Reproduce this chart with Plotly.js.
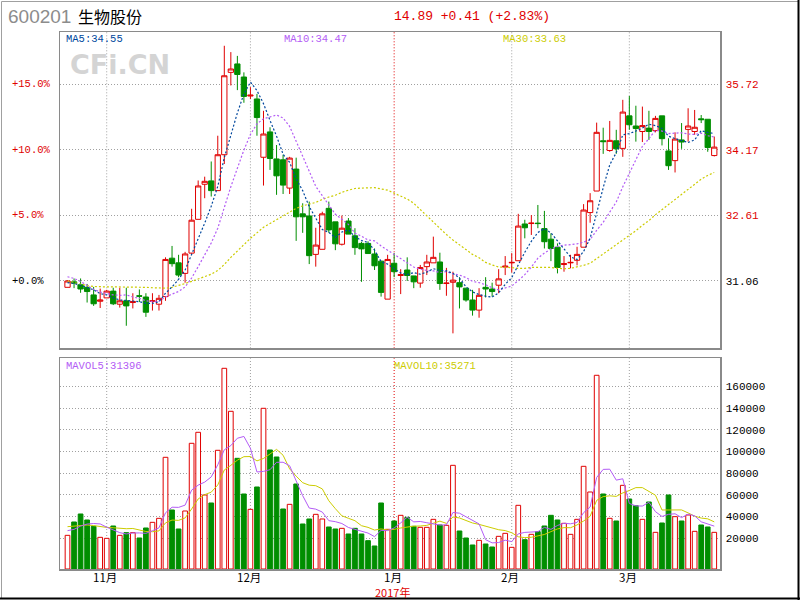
<!DOCTYPE html>
<html>
<head>
<meta charset="utf-8">
<script src="https://cdn.plot.ly/plotly-3.0.1.min.js"></script>
<style>html,body{margin:0;padding:0;background:#fff}#chart{width:800px;height:600px}</style>
</head>
<body>
<div id="chart"></div>
<script>
// ---- data ----
const openP = [30.91,31.04,30.97,30.91,30.73,30.58,30.66,30.82,30.51,30.59,30.55,30.71,30.68,30.58,30.51,30.69,31.60,31.49,31.24,31.72,
32.52,33.35,33.43,33.20,34.05,36.00,36.20,35.89,35.44,35.37,33.99,34.59,33.95,33.93,33.26,33.71,32.65,32.60,31.69,31.81,
32.78,32.46,31.93,32.48,32.13,31.95,31.95,31.70,31.53,30.63,31.48,31.19,31.32,31.18,31.01,31.40,31.49,31.51,31.00,31.03,
31.02,30.89,30.61,30.37,30.91,30.87,30.96,31.39,31.49,31.54,32.41,32.42,32.43,32.30,32.05,31.86,31.45,31.49,31.55,31.86,
32.68,33.19,34.38,34.15,34.38,34.20,34.97,34.73,34.60,34.68,34.62,34.97,34.14,33.91,34.40,34.65,34.60,34.90,34.89,34.03];
const highP = [31.08,31.12,31.12,30.99,30.92,30.88,30.85,30.90,30.90,30.90,30.77,30.86,30.77,30.77,30.73,31.62,31.89,31.68,31.75,32.77,
33.44,33.53,33.89,34.50,36.63,36.48,36.39,36.00,35.65,35.49,35.09,34.70,34.28,34.05,34.00,33.98,32.90,32.94,32.32,32.70,
32.94,32.46,32.61,32.55,32.31,31.99,32.00,31.83,31.53,31.68,31.72,31.34,31.62,31.18,31.44,31.68,32.11,31.73,31.37,31.28,
31.15,30.89,30.85,30.89,31.15,31.02,31.34,31.65,31.72,32.65,32.51,32.62,32.86,32.72,32.19,31.95,31.65,31.68,31.87,32.88,
33.14,34.81,34.69,34.85,34.64,35.35,35.44,35.21,35.19,35.09,34.97,34.97,34.44,34.58,34.80,35.15,35.11,34.99,34.89,34.48];
const lowP = [30.91,30.89,30.78,30.55,30.47,30.42,30.66,30.49,30.43,30.00,30.41,30.56,30.21,30.36,30.36,30.59,31.40,31.15,31.02,31.70,
32.52,33.02,33.06,33.20,33.83,35.69,35.58,35.28,35.37,34.50,33.32,33.69,33.10,33.12,33.12,32.01,32.20,31.46,31.40,31.81,
32.20,31.79,31.90,32.17,31.68,31.04,31.71,31.32,30.69,30.63,31.15,30.75,31.06,30.89,30.90,31.20,31.49,30.85,30.71,29.82,
30.41,30.57,30.24,30.19,30.67,30.69,30.77,31.20,31.26,31.54,32.07,32.15,32.31,31.83,31.53,31.24,31.28,31.36,31.43,31.86,
32.44,33.19,34.07,34.12,34.07,34.00,34.64,34.36,34.35,34.40,34.58,34.27,33.69,33.63,34.19,34.36,34.52,34.80,34.12,34.01];
const closeP = [31.06,31.01,30.87,30.81,30.52,30.61,30.82,30.52,30.59,30.47,30.57,30.70,30.32,30.59,30.65,31.57,31.47,31.20,31.70,32.50,
33.31,33.42,33.20,34.05,35.92,36.08,35.95,35.43,35.46,34.93,34.54,33.96,33.55,33.33,33.97,32.58,32.58,31.66,31.91,32.65,
32.27,31.94,32.31,32.17,31.85,31.82,31.71,31.42,30.79,31.57,31.28,31.21,31.19,31.04,31.38,31.51,31.62,31.00,31.01,31.08,
30.92,30.61,30.37,30.72,30.87,30.81,31.11,31.41,31.50,32.36,32.32,32.43,32.42,31.99,31.83,31.38,31.47,31.50,31.69,32.74,
32.96,34.58,34.36,34.39,34.19,35.06,34.76,34.67,34.74,34.60,34.91,34.43,33.79,34.42,34.35,34.73,34.70,34.88,34.22,34.23];
const volume = [22490,34800,42190,36650,30800,20650,19720,31110,22490,24950,24950,20030,29260,34490,38190,94500,45880,28340,44960,107420,
117570,59720,52340,100960,176650,136960,93570,60650,46490,67110,139730,101260,94800,46800,51110,69880,32950,37570,41880,37570,
30190,28340,28950,23720,28950,23720,17570,12650,52340,28030,35720,40960,39110,30800,29880,29880,37260,32030,31720,87110,
26490,20030,13570,17880,14490,11720,21570,24340,11420,50190,18490,23420,25880,31110,40960,36650,33570,23420,37260,86190,
62490,170200,60650,38190,35720,68650,56030,49880,37260,53260,25260,33880,59720,39720,35720,41260,26180,32030,30190,25260];
const ma5 = [31.02,31.00,30.96,30.91,30.85,30.76,30.73,30.66,30.61,30.60,30.59,30.57,30.53,30.53,30.57,30.77,30.92,31.10,31.32,31.69,
32.04,32.43,32.83,33.30,33.98,34.53,35.04,35.49,35.77,35.57,35.26,34.86,34.49,34.06,33.87,33.48,33.20,32.82,32.54,32.28,
32.21,32.09,32.22,32.27,32.11,32.02,31.97,31.79,31.52,31.46,31.35,31.25,31.21,31.26,31.22,31.27,31.35,31.31,31.30,31.24,
31.13,30.92,30.80,30.74,30.70,30.68,30.78,30.98,31.14,31.44,31.74,32.00,32.21,32.30,32.20,32.01,31.82,31.63,31.57,31.76,
32.07,32.69,33.27,33.81,34.10,34.52,34.55,34.61,34.68,34.77,34.74,34.67,34.49,34.43,34.38,34.34,34.40,34.62,34.58,34.55];
const ma10 = [31.16,31.12,31.05,30.95,30.86,30.80,30.76,30.73,30.72,30.73,30.68,30.65,30.59,30.57,30.58,30.68,30.75,30.81,30.92,31.13,
31.40,31.67,31.96,32.31,32.83,33.29,33.73,34.16,34.53,34.78,34.90,34.95,34.99,34.92,34.72,34.37,34.03,33.66,33.30,33.07,
32.85,32.64,32.52,32.40,32.19,32.12,32.03,32.01,31.89,31.79,31.69,31.61,31.50,31.39,31.34,31.31,31.30,31.26,31.28,31.23,
31.20,31.14,31.05,31.02,30.97,30.90,30.85,30.89,30.94,31.07,31.21,31.39,31.60,31.72,31.82,31.88,31.91,31.92,31.94,31.98,
32.04,32.26,32.45,32.69,32.93,33.29,33.62,33.94,34.25,34.43,34.63,34.61,34.55,34.56,34.57,34.54,34.53,34.56,34.50,34.47];
const ma30 = [31.06,31.02,30.98,30.95,30.93,30.92,30.92,30.92,30.92,30.92,30.92,30.91,30.91,30.90,30.89,30.89,30.91,30.95,31.00,31.05,
31.11,31.16,31.22,31.31,31.45,31.62,31.78,31.92,32.07,32.21,32.33,32.42,32.51,32.60,32.71,32.78,32.84,32.88,32.92,32.99,
33.05,33.09,33.16,33.21,33.25,33.26,33.27,33.27,33.24,33.21,33.14,33.07,33.00,32.90,32.75,32.60,32.45,32.31,32.16,32.03,
31.91,31.80,31.69,31.61,31.50,31.44,31.39,31.39,31.37,31.36,31.36,31.38,31.38,31.38,31.38,31.36,31.35,31.36,31.39,31.43,
31.48,31.59,31.70,31.81,31.91,32.02,32.13,32.25,32.38,32.49,32.63,32.75,32.87,32.99,33.11,33.24,33.36,33.47,33.56,33.63];
const mavol5 = [26800,28000,31000,32900,33390,33020,30000,27790,24950,23780,24640,24710,24340,26740,29380,43290,48460,48280,50370,64220,
68830,71600,76400,87600,101450,105330,112100,113760,102860,80960,81510,83050,89880,89940,86740,72770,59110,47660,46680,43970,
36030,35110,33390,29750,28030,26740,24580,21320,27050,26860,29260,33940,39230,34920,35290,34130,33390,31970,32150,43600,
42920,39480,35780,33020,18490,15540,15850,18000,16710,23850,25200,25570,25880,29820,27970,31600,33630,33140,34370,43420,
48590,75910,83360,83540,73450,74680,51850,49690,49510,53020,44340,39910,41880,42370,38860,42060,40520,34980,33080,30980];
const mavol10 = [30500,31000,31500,32000,31500,30500,29800,29500,29000,28590,28830,27350,26060,25850,26580,33970,36590,36310,38560,46800,
56060,60030,62340,68990,82830,87080,91850,95080,95230,91200,93420,97570,101820,96400,83850,77140,71080,68770,68310,65360,
54400,47110,40520,38220,36000,31380,29850,27350,28400,27450,28000,29260,30280,30990,31080,31690,33660,35600,33540,39450,
38520,36430,33880,32590,31050,29230,27660,26890,24860,21170,20370,20710,21940,23260,25910,28400,29600,29510,32100,35700,
40100,54770,58250,58960,58430,61630,63880,66530,66530,63230,59510,45880,45790,45940,45940,43200,40210,38430,37720,34920];
const monthTicks = [6, 28, 50, 68, 86];          // trading-day index of first session of each month
const monthLabels = ['11月', '12月', '1月', '2月', '3月'];
const yearTick = 50, yearLabel = '2017年';
const priceTicks = [31.06, 32.613, 34.166, 35.719];
const priceLabels = ['31.06', '32.61', '34.17', '35.72'];
const pctLabels = ['+0.0%', '+5.0%', '+10.0%', '+15.0%'];
const volTicks = [20000, 40000, 60000, 80000, 100000, 120000, 140000, 160000];
const volLabels = ['20000', '40000', '60000', '80000', '100000', '120000', '140000', '160000'];

// ---- styling ----
const RED = '#e00000', GREEN = '#008e00';
const C_MA5 = '#00479d', C_MA10 = '#b35cf5', C_MA30 = '#cccc00';
const MONO = 'Liberation Mono, DejaVu Sans Mono, monospace';
const CJK = 'Noto Sans CJK SC, sans-serif';
const DOT = '1px,2px';

const idx = closeP.map((_, i) => i);
const up = closeP.map((c, i) => c > openP[i]);
const xRange = [-1.15, 99.88];
const priceRange = [29.466, 36.956];
const volRange = [-8580, 185880];
const volBase = volRange[0];

const maLine = (y, color) => ({type: 'scatter', mode: 'lines', x: idx, y: y, xaxis: 'x', yaxis: 'y',
  line: {color: color, width: 1.2, dash: '2px,2px'}, hoverinfo: 'skip'});

const traces = [
  maLine(ma30, C_MA30), maLine(ma10, C_MA10), maLine(ma5, C_MA5),
  {type: 'candlestick', x: idx, open: openP, high: highP, low: lowP, close: closeP, xaxis: 'x', yaxis: 'y',
    increasing: {line: {color: RED, width: 1}, fillcolor: '#ffffff'},
    decreasing: {line: {color: GREEN, width: 1}, fillcolor: GREEN},
    whiskerwidth: 0, hoverinfo: 'skip'},
  {type: 'bar', x: idx, y: volume.map(v => v - volBase), base: volBase, xaxis: 'x2', yaxis: 'y2', width: 0.72,
    marker: {color: up.map(u => u ? '#ffffff' : GREEN), line: {color: up.map(u => u ? RED : GREEN), width: 1}},
    hoverinfo: 'skip'},
  {type: 'scatter', mode: 'lines', x: idx, y: mavol10, xaxis: 'x2', yaxis: 'y2', line: {color: C_MA30, width: 1}, hoverinfo: 'skip'},
  {type: 'scatter', mode: 'lines', x: idx, y: mavol5, xaxis: 'x2', yaxis: 'y2', line: {color: C_MA10, width: 1}, hoverinfo: 'skip'}
];

// pixel helpers for paper placement (plot area: x 60..720, y 32..569)
const L = 60, R = 80, T = 32, B = 31, W = 800, H = 600;
const pw = W - L - R, ph = H - T - B;
const px = x => (x - L) / pw;
const py = y => (H - B - y) / ph;
const mainDom = [py(348.3), 1];
const volDom = [0, py(358.3)];

const shapes = [];
monthTicks.forEach(m => {
  const col = m === yearTick ? RED : '#a0a0a0';
  [mainDom, volDom].forEach(d => shapes.push({type: 'line', xref: 'x', yref: 'paper', x0: m, x1: m, y0: d[0], y1: d[1],
    line: {color: col, width: 1, dash: DOT}, layer: 'below'}));
});
// outer border of the picture
shapes.push({type: 'line', xref: 'paper', yref: 'paper', x0: px(1.5), x1: px(1.5), y0: py(1.5), y1: py(598), line: {color: '#a0a0a0', width: 1}});
shapes.push({type: 'line', xref: 'paper', yref: 'paper', x0: px(1.5), x1: px(798), y0: py(1.5), y1: py(1.5), line: {color: '#a0a0a0', width: 1}});
shapes.push({type: 'line', xref: 'paper', yref: 'paper', x0: px(798.5), x1: px(798.5), y0: py(0), y1: py(600), line: {color: '#000', width: 2}});
shapes.push({type: 'line', xref: 'paper', yref: 'paper', x0: px(0), x1: px(800), y0: py(598.5), y1: py(598.5), line: {color: '#000', width: 2}});

const ann = (text, x, y, color, size, family, extra) => Object.assign({text: text, xref: 'paper', yref: 'paper', x: px(x), y: py(y),
  xanchor: 'left', yanchor: 'middle', showarrow: false, font: {color: color, size: size, family: family}, borderpad: 0}, extra || {});

const annotations = [
  ann('600201', 7, 17, '#8c8c8c', 19, 'Liberation Sans, Arial, sans-serif'),
  ann('生物股份', 77, 16, '#000', 16, CJK),
  ann('14.89 +0.41 (+2.83%)', 393, 16, RED, 13, MONO),
  ann('MA5:34.55', 65, 39, C_MA5, 10.5, MONO),
  ann('MA10:34.47', 283, 39, C_MA10, 10.5, MONO),
  ann('MA30:33.63', 502, 39, C_MA30, 10.5, MONO),
  ann('MAVOL5:31396', 65, 366, C_MA10, 10.5, MONO),
  ann('MAVOL10:35271', 393, 366, C_MA30, 10.5, MONO),
  ann('CFi.CN', 69, 64, '#d4d4d4', 27, 'DejaVu Sans, sans-serif', {font: {color: '#d4d4d4', size: 27, family: 'DejaVu Sans, sans-serif', weight: 'bold'}}),
  {text: yearLabel, xref: 'x2', yref: 'paper', x: yearTick - 0.3, y: py(592), xanchor: 'center', yanchor: 'middle', showarrow: false,
    borderpad: 0, font: {color: RED, size: 11, family: CJK}}
];
monthTicks.forEach((m, k) => annotations.push({text: monthLabels[k], xref: 'x2', yref: 'paper', x: m - 0.2, y: py(577),
  xanchor: 'center', yanchor: 'middle', showarrow: false, borderpad: 0, font: {color: '#000', size: 11.5, family: CJK}}));
priceTicks.forEach((p, k) => annotations.push({text: pctLabels[k], xref: 'paper', yref: 'y', x: px(11), y: p, xanchor: 'left', yanchor: 'middle',
  showarrow: false, borderpad: 0, font: {color: k === 0 ? '#000' : RED, size: 10.5, family: MONO}}));

const priceTickText = priceLabels.map((t, k) => k === 0 ? t : '<span style="color:' + RED + '">' + t + '</span>');

const axisFrame = {showline: true, mirror: true, linecolor: '#8a8a8a', linewidth: 1.5, zeroline: false};

const layout = {
  width: W, height: H, margin: {l: L, r: R, t: T, b: B, pad: 0},
  paper_bgcolor: '#ffffff', plot_bgcolor: '#ffffff', showlegend: false,
  boxgap: 0.12, boxgroupgap: 0.08, bargap: 0,
  xaxis: Object.assign({domain: [0, 1], range: xRange, anchor: 'y', showticklabels: false, ticks: '', showgrid: false,
    rangeslider: {visible: false}, fixedrange: true}, axisFrame),
  yaxis: Object.assign({domain: mainDom, range: priceRange, anchor: 'x', side: 'right', tickvals: priceTicks, ticktext: priceTickText,
    ticks: '', showgrid: true, gridcolor: '#a0a0a0', griddash: DOT, gridwidth: 1, ticklabelstandoff: 2,
    tickfont: {family: MONO, size: 11, color: '#000'}, fixedrange: true}, axisFrame),
  xaxis2: Object.assign({domain: [0, 1], range: xRange, anchor: 'y2', showticklabels: false, ticks: '',
    showgrid: false, fixedrange: true}, axisFrame),
  yaxis2: Object.assign({domain: volDom, range: volRange, anchor: 'x2', side: 'right', tickvals: volTicks, ticktext: volLabels,
    ticks: '', showgrid: true, gridcolor: '#a0a0a0', griddash: DOT, gridwidth: 1, ticklabelstandoff: 2,
    tickfont: {family: MONO, size: 11, color: '#000'}, fixedrange: true}, axisFrame),
  shapes: shapes,
  annotations: annotations
};

Plotly.newPlot('chart', traces, layout, {displayModeBar: false, staticPlot: true});
</script>
</body>
</html>
